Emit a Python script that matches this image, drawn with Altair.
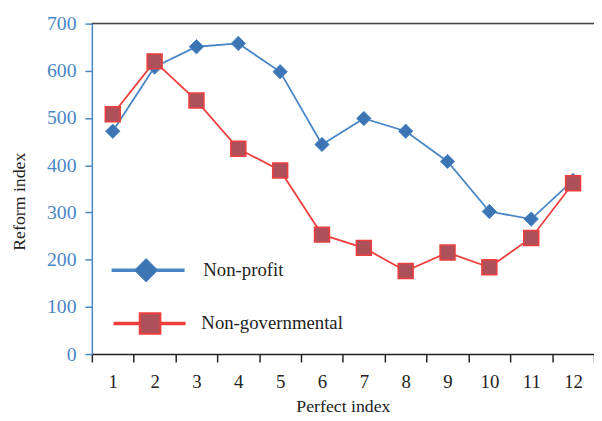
import altair as alt
import pandas as pd

perfect_index = [str(i) for i in range(1, 13)]
nonprofit = [472, 608, 651, 658, 598, 444, 499, 472, 408, 302, 286, 368]
nongovernmental = [508, 620, 537, 435, 389, 253, 225, 176, 215, 184, 246, 362]
series_names = ["Non-profit", "Non-governmental"]
y_ticks = [0, 100, 200, 300, 400, 500, 600, 700]

BLUE_LINE = "#4A86C6"
BLUE_FILL = "#3D74B4"
RED_LINE = "#EE3E3E"
RED_FILL = "#AE5059"
AXIS_BLUE = "#4A86C6"
FONT = "Liberation Serif"

W, H = 509, 335

df_np = pd.DataFrame({"x": perfect_index, "y": nonprofit})
df_ng = pd.DataFrame({"x": perfect_index, "y": nongovernmental})

x_enc = alt.X(
    "x:O",
    sort=perfect_index,
    scale=alt.Scale(type="band", paddingInner=0, paddingOuter=0),
    axis=alt.Axis(
        title="Perfect index",
        labelAngle=0,
        tickBand="extent",
        domainColor="#222222",
        domainWidth=1.5,
        tickColor="#222222",
        tickWidth=1.5,
        tickSize=8,
        labelColor="#222222",
        labelFont=FONT,
        labelFontSize=19,
        labelPadding=11,
        titleFont=FONT,
        titleFontSize=18,
        titleFontWeight="normal",
        titleColor="#222222",
        titleY=53,
        titleBaseline="middle",
    ),
)
y_enc = alt.Y(
    "y:Q",
    scale=alt.Scale(domain=[0, 700]),
    axis=alt.Axis(
        values=y_ticks,
        title="Reform index",
        grid=False,
        domainColor=AXIS_BLUE,
        domainWidth=1.5,
        tickColor=AXIS_BLUE,
        tickWidth=1.5,
        tickSize=7,
        labelColor=AXIS_BLUE,
        labelFont=FONT,
        labelFontSize=20,
        labelPadding=9,
        titleFont=FONT,
        titleFontSize=18,
        titleFontWeight="normal",
        titleColor="#222222",
        titleX=-73,
        titleY=180,
        titleAngle=270,
        titleAlign="center",
        titleBaseline="middle",
    ),
)

np_line = alt.Chart(df_np).mark_line(color=BLUE_LINE, strokeWidth=1.8).encode(x=x_enc, y=y_enc)
np_pts = alt.Chart(df_np).mark_point(
    shape="diamond", filled=True, fill=BLUE_FILL, stroke=BLUE_LINE, strokeWidth=1, size=210, opacity=1
).encode(x=x_enc, y=y_enc)
ng_line = alt.Chart(df_ng).mark_line(color=RED_LINE, strokeWidth=1.8).encode(x=x_enc, y=y_enc)
ng_pts = alt.Chart(df_ng).mark_point(
    shape="square", filled=True, fill=RED_FILL, stroke=RED_LINE, strokeWidth=1.5, size=230, opacity=1
).encode(x=x_enc, y=y_enc)

one = alt.Data(values=[{}])
top_rule = alt.Chart(one).mark_rule(color="#444444", strokeWidth=1.5).encode(
    x=alt.value(0), x2=alt.value(W), y=alt.value(0)
)

# manual legend
leg_np_line = alt.Chart(one).mark_rule(color=BLUE_LINE, strokeWidth=3.5).encode(
    x=alt.value(20), x2=alt.value(94), y=alt.value(250)
)
leg_np_sym = alt.Chart(one).mark_point(
    shape="diamond", filled=True, fill=BLUE_FILL, stroke=BLUE_LINE, strokeWidth=1, size=560, opacity=1
).encode(x=alt.value(55), y=alt.value(250))
leg_np_txt = alt.Chart(one).mark_text(
    text=series_names[0], align="left", baseline="middle", font=FONT, fontSize=19, color="#222222"
).encode(x=alt.value(113), y=alt.value(250))

leg_ng_line = alt.Chart(one).mark_rule(color=RED_LINE, strokeWidth=3.5).encode(
    x=alt.value(22), x2=alt.value(95), y=alt.value(304)
)
leg_ng_sym = alt.Chart(one).mark_point(
    shape="square", filled=True, fill=RED_FILL, stroke=RED_LINE, strokeWidth=2, size=440, opacity=1
).encode(x=alt.value(59), y=alt.value(304))
leg_ng_txt = alt.Chart(one).mark_text(
    text=series_names[1], align="left", baseline="middle", font=FONT, fontSize=19, color="#222222"
).encode(x=alt.value(111), y=alt.value(304))

chart = alt.layer(
    top_rule,
    np_line, np_pts, ng_line, ng_pts,
    leg_np_line, leg_np_sym, leg_np_txt,
    leg_ng_line, leg_ng_sym, leg_ng_txt,
).properties(
    width=W,
    height=H,
    autosize=alt.AutoSizeParams(type="none"),
    padding={"left": 85, "top": 13, "right": 0, "bottom": 65},
).configure_view(stroke=None).configure(background="white")

chart.save("out.html", embed_options={"renderer": "svg", "actions": False})
